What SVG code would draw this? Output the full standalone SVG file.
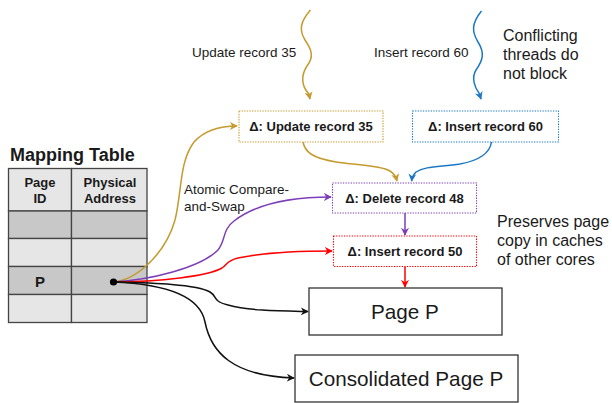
<svg xmlns="http://www.w3.org/2000/svg" width="612" height="403" viewBox="0 0 612 403">
<style>
text{font-family:"Liberation Sans",Arial,sans-serif;fill:#1a1a1a}
.b{font-weight:bold}
.lbl{font-size:13.5px}
.note{font-size:16px}
.dl{font-size:13px;font-weight:bold;text-anchor:middle}
.cell{fill:#e6e6e6;stroke:#444;stroke-width:1.3}
.dark{fill:#c8c8c8}
.dot{fill:#fff;stroke-width:1.1;stroke-dasharray:1.3 1.3}
.c{fill:none;stroke-width:1.5}
.pg{fill:#fff;stroke:#333;stroke-width:1.3}
.big{font-size:20.7px;text-anchor:middle}
</style>
<defs>
<marker id="ag" viewBox="0 0 10 10" refX="9" refY="5" markerWidth="8" markerHeight="8" markerUnits="userSpaceOnUse" orient="auto"><path d="M0,0 L10,5 L0,10 L3,5 z" fill="#C59A2E"/></marker>
<marker id="ab" viewBox="0 0 10 10" refX="9" refY="5" markerWidth="8" markerHeight="8" markerUnits="userSpaceOnUse" orient="auto"><path d="M0,0 L10,5 L0,10 L3,5 z" fill="#1C78C4"/></marker>
<marker id="ap" viewBox="0 0 10 10" refX="9" refY="5" markerWidth="8" markerHeight="8" markerUnits="userSpaceOnUse" orient="auto"><path d="M0,0 L10,5 L0,10 L3,5 z" fill="#7B3DB8"/></marker>
<marker id="ar" viewBox="0 0 10 10" refX="9" refY="5" markerWidth="8" markerHeight="8" markerUnits="userSpaceOnUse" orient="auto"><path d="M0,0 L10,5 L0,10 L3,5 z" fill="#FF0000"/></marker>
<marker id="ak" viewBox="0 0 10 10" refX="9" refY="5" markerWidth="8" markerHeight="8" markerUnits="userSpaceOnUse" orient="auto"><path d="M0,0 L10,5 L0,10 L3,5 z" fill="#111"/></marker>
</defs>
<rect width="612" height="403" fill="#fff"/>

<g id="mapping-table">
<text x="10" y="161" class="b" font-size="18">Mapping Table</text>
<rect class="cell" x="8.5" y="168.5" width="63" height="42.5"/>
<rect class="cell" x="71.5" y="168.5" width="75.5" height="42.5"/>
<rect class="cell dark" x="8.5" y="211" width="63" height="27.5"/>
<rect class="cell dark" x="71.5" y="211" width="75.5" height="27.5"/>
<rect class="cell" x="8.5" y="238.5" width="63" height="28"/>
<rect class="cell" x="71.5" y="238.5" width="75.5" height="28"/>
<rect class="cell dark" x="8.5" y="266.5" width="63" height="28"/>
<rect class="cell dark" x="71.5" y="266.5" width="75.5" height="28"/>
<rect class="cell" x="8.5" y="294.5" width="63" height="28"/>
<rect class="cell" x="71.5" y="294.5" width="75.5" height="28"/>
<text x="40" y="187" class="b" font-size="13" text-anchor="middle">Page</text>
<text x="40" y="203" class="b" font-size="13" text-anchor="middle">ID</text>
<text x="110" y="187" class="b" font-size="13" text-anchor="middle">Physical</text>
<text x="110" y="203" class="b" font-size="13" text-anchor="middle">Address</text>
<text x="40" y="286.5" class="b" font-size="15" text-anchor="middle">P</text>
</g>

<g id="connectors">
<path class="c" stroke="#C59A2E" d="M310.5,10 C300,22 299,30 305,40 C312,50 314,57 307,66 C301,75 301,86 309,94 L310,99" marker-end="url(#ag)"/>
<path class="c" stroke="#1C78C4" d="M481.5,11 C471,24 472,32 478,42 C485,53 483,60 476,70 C471,78 475,88 479,93 L481,99" marker-end="url(#ab)"/>
<path class="c" stroke="#C59A2E" d="M303,142 C305,152 312,158 336,162 C355,165 380,165 390,171 C395,174 396,177 397,181" marker-end="url(#ag)"/>
<path class="c" stroke="#1C78C4" d="M491.5,142 C490,152 482,160 460,164 C440,167 425,166 416,172 C413,175 412,178 411.7,181" marker-end="url(#ab)"/>
<path class="c" stroke="#7B3DB8" d="M405,213 L405,235" marker-end="url(#ap)"/>
<path class="c" stroke="#FF0000" d="M405,266.5 L405,287" marker-end="url(#ar)"/>
<path class="c" stroke="#C59A2E" d="M113,282 C138,280 166,252 175,220 C182,192 179,162 194,142 C205,130 220,126 237,126" marker-end="url(#ag)"/>
<path class="c" stroke="#7B3DB8" d="M113,282 C150,280 200,268 218,250 C226,240 222,230 234,221 C256,204 290,197 331,197" marker-end="url(#ap)"/>
<path class="c" stroke="#FF0000" d="M113,282 C160,282 208,276 222,268 C228,264 226,261 238,258 C266,252 300,251 332,251" marker-end="url(#ar)"/>
<path class="c" stroke="#111" d="M113,282 C150,283 196,284 210,292 C218,297 212,301 228,305 C250,311 280,311 308,311.5" marker-end="url(#ak)"/>
<path class="c" stroke="#111" d="M113,282 C165,284 200,296 205,322 C211,352 232,376 294,378" marker-end="url(#ak)"/>
<circle cx="113.5" cy="282" r="3.6" fill="#000"/>
</g>

<g id="labels">
<text x="192" y="57" class="lbl">Update record 35</text>
<text x="374" y="57" class="lbl">Insert record 60</text>
<text x="503" y="40.5" class="note">Conflicting</text>
<text x="503" y="59.5" class="note">threads do</text>
<text x="503" y="78.5" class="note">not block</text>
<text x="184" y="194" class="lbl">Atomic Compare-</text>
<text x="184" y="210.5" class="lbl">and-Swap</text>
<text x="497" y="227" class="note">Preserves page</text>
<text x="497" y="246" class="note">copy in caches</text>
<text x="497" y="265" class="note">of other cores</text>
</g>

<g id="delta-update-35">
<rect class="dot" stroke="#C59A2E" x="239" y="111" width="144" height="31"/>
<text x="311" y="131" class="dl">Δ: Update record 35</text>
</g>
<g id="delta-insert-60">
<rect class="dot" stroke="#1C78C4" x="412.5" y="111" width="146" height="31"/>
<text x="485.5" y="131" class="dl">Δ: Insert record 60</text>
</g>
<g id="delta-delete-48">
<rect class="dot" stroke="#7B3DB8" x="332.5" y="183" width="144" height="30"/>
<text x="404.5" y="202.5" class="dl">Δ: Delete record 48</text>
</g>
<g id="delta-insert-50">
<rect class="dot" stroke="#FF0000" x="333.5" y="236" width="143" height="30.5"/>
<text x="405" y="255.5" class="dl">Δ: Insert record 50</text>
</g>
<g id="page-p">
<rect class="pg" x="309" y="288" width="193" height="47"/>
<text x="405" y="318.5" class="big">Page P</text>
</g>
<g id="consolidated-page-p">
<rect class="pg" x="295" y="355" width="223" height="47"/>
<text x="406" y="385.5" class="big">Consolidated Page P</text>
</g>
</svg>
